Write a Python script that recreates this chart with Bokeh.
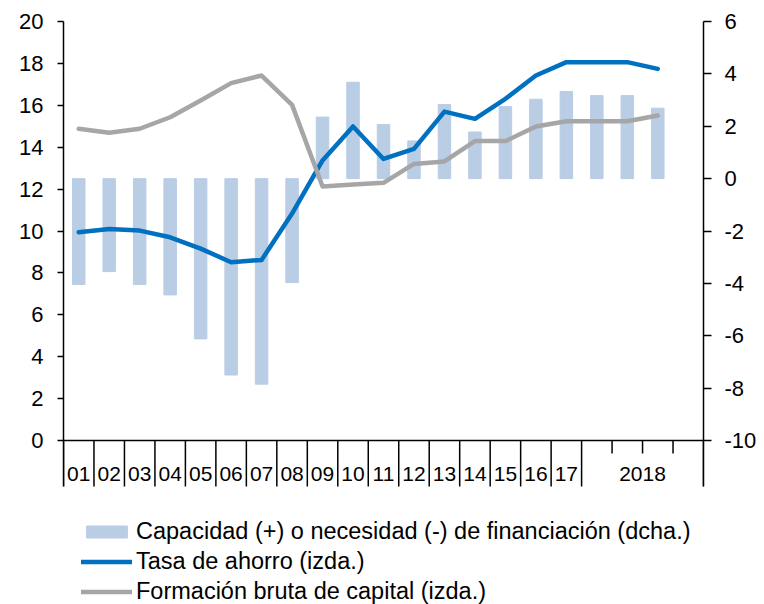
from bokeh.plotting import figure
from bokeh.models import (Range1d, LinearAxis, FixedTicker, Span, Legend, LegendItem)
from bokeh.core.properties import value
from bokeh.embed import file_html
from bokeh.resources import INLINE

# ---------------- data ----------------
year_labels = ["01", "02", "03", "04", "05", "06", "07", "08", "09", "10",
               "11", "12", "13", "14", "15", "16", "17", "2018"]
slots_per_label = [1] * 17 + [4]          # 2018 shown by quarters
capacidad = [-4.04, -3.55, -4.04, -4.44, -6.12, -7.50, -7.85, -3.97, 2.35, 3.68,
             2.07, 1.44, 2.83, 1.78, 2.75, 3.03, 3.33, 3.17, 3.17, 2.69]
tasa_ahorro = [9.94, 10.10, 10.02, 9.70, 9.16, 8.51, 8.62, 10.83, 13.37, 14.99,
               13.44, 13.92, 15.70, 15.35, 16.31, 17.42, 18.06, 18.06, 18.06, 17.74]
fbc = [14.88, 14.69, 14.88, 15.43, 16.23, 17.06, 17.42, 16.02, 12.12, 12.22,
       12.30, 13.20, 13.32, 14.29, 14.29, 14.99, 15.24, 15.24, 15.24, 15.51]
left_ticks = list(range(0, 21, 2))
right_ticks = list(range(-10, 7, 2))

# ---------------- layout constants ----------------
FONT = "Liberation Sans"
W, H = 764, 604
n_slots = sum(slots_per_label)
x = [i + 0.5 for i in range(len(capacidad))]

LEFT_MIN, LEFT_MAX = 0, 20
RIGHT_MIN, RIGHT_MAX = -10, 6
frame_top_px, zero_px, frame_bottom_px = 21, 440, H
px_per_left = (zero_px - frame_top_px) / (LEFT_MAX - LEFT_MIN)
px_per_right = (zero_px - frame_top_px) / (RIGHT_MAX - RIGHT_MIN)
left_bottom = LEFT_MIN - (frame_bottom_px - zero_px) / px_per_left
right_bottom = RIGHT_MIN - (frame_bottom_px - zero_px) / px_per_right
sep_depth_px = 46
sep_bottom = -sep_depth_px / px_per_left

p = figure(width=W, height=H, output_backend="svg", toolbar_location=None,
           x_range=Range1d(0, n_slots), y_range=Range1d(left_bottom, LEFT_MAX),
           min_border_left=63, min_border_right=61, min_border_top=frame_top_px,
           min_border_bottom=0)
p.outline_line_color = None
p.grid.visible = False
p.xaxis.visible = False
p.extra_y_ranges = {"right": Range1d(right_bottom, RIGHT_MAX)}

def style_axis(ax, tick_out, standoff, ticks):
    ax.ticker = FixedTicker(ticks=ticks)
    ax.axis_line_width = 1.5
    ax.axis_line_color = "black"
    ax.major_tick_line_color = "black"
    ax.major_tick_line_width = 1.5
    ax.major_tick_out = tick_out
    ax.major_tick_in = 0
    ax.minor_tick_line_color = None
    ax.major_label_text_font = FONT
    ax.major_label_text_font_size = "22px"
    ax.major_label_text_color = "black"
    ax.major_label_standoff = standoff
    ax.major_label_overrides = {t: str(t) for t in ticks}

# left axis
ya = p.yaxis[0]
style_axis(ya, 6, 14, left_ticks)
ya.bounds = (sep_bottom, LEFT_MAX)

# right axis
ra = LinearAxis(y_range_name="right")
style_axis(ra, 8, 13, right_ticks)
ra.bounds = (RIGHT_MIN - sep_depth_px / px_per_right, RIGHT_MAX)
p.add_layout(ra, "right")

# bars (right axis)
bars = p.vbar(x=x, top=capacidad, bottom=0, width=0.41, color="#B9CDE5",
              y_range_name="right")
# lines (left axis)
l_blue = p.line(x, tasa_ahorro, line_color="#0070C0", line_width=4.5,
                line_join="round", line_cap="round")
l_gray = p.line(x, fbc, line_color="#A6A6A6", line_width=4.5,
                line_join="round", line_cap="round")

# custom category axis: baseline, separators, labels
p.add_layout(Span(location=0, dimension="width", line_color="black", line_width=1.5))
bounds = [0]
for s in slots_per_label:
    bounds.append(bounds[-1] + s)
long_x = bounds
short_x = []
for i, s in enumerate(slots_per_label):
    for k in range(1, s):
        short_x.append(bounds[i] + k)
p.segment(x0=long_x, y0=[0] * len(long_x), x1=long_x, y1=[sep_bottom] * len(long_x),
          line_color="black", line_width=1.5)
short_bottom = -13 / px_per_left
p.segment(x0=short_x, y0=[0] * len(short_x), x1=short_x, y1=[short_bottom] * len(short_x),
          line_color="black", line_width=1.5)
label_x = [(bounds[i] + bounds[i + 1]) / 2 for i in range(len(year_labels))]
label_y = [-(33 / px_per_left)] * len(year_labels)
p.text(x=label_x, y=label_y, text=year_labels, text_align="center",
       text_baseline="middle", text_font=value(FONT),
       text_font_size=value("21px"), text_color="black")

legend = Legend(items=[
    LegendItem(label="Capacidad (+) o necesidad (-) de financiación (dcha.)", renderers=[bars]),
    LegendItem(label="Tasa de ahorro (izda.)", renderers=[l_blue]),
    LegendItem(label="Formación bruta de capital (izda.)", renderers=[l_gray]),
], location=(18, -2), orientation="vertical")
legend.label_text_font = FONT
legend.label_text_font_size = "23.5px"
legend.label_text_color = "black"
legend.label_height = 30
legend.glyph_height = 15
legend.glyph_width = 51
legend.spacing = 0
legend.padding = 0
legend.margin = 0
legend.label_standoff = 4
legend.border_line_alpha = 0
legend.background_fill_alpha = 0
p.add_layout(legend, "center")

open("out.html", "w").write(file_html(p, INLINE))
